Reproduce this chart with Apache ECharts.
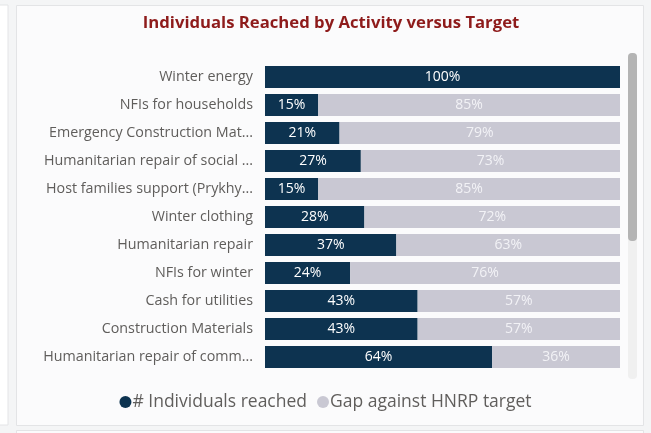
<!DOCTYPE html>
<html>
<head>
<meta charset="utf-8">
<script src="https://cdn.jsdelivr.net/npm/echarts@6/dist/echarts.min.js"></script>
<style>
html,body{margin:0;padding:0;background:#f4f5f6;}
#chart{width:651px;height:433px;}
</style>
</head>
<body>
<div id="chart"></div>
<script>
var categories = [
  "Winter energy",
  "NFIs for households",
  "Emergency Construction Mat...",
  "Humanitarian repair of social ...",
  "Host families support (Prykhy...",
  "Winter clothing",
  "Humanitarian repair",
  "NFIs for winter",
  "Cash for utilities",
  "Construction Materials",
  "Humanitarian repair of comm..."
];
var reached = [100, 15, 21, 27, 15, 28, 37, 24, 43, 43, 64];
var gap = [0, 85, 79, 73, 85, 72, 63, 76, 57, 57, 36];
var seriesNames = ["# Individuals reached", "Gap against HNRP target"];
var titleText = "Individuals Reached by Activity versus Target";

var FONT = "'Open Sans', 'Noto Sans', sans-serif";
var chart = echarts.init(document.getElementById('chart'), null, {renderer: 'canvas'});
function lbl(p){ return p.value > 0 ? p.value + '%' : ''; }
chart.setOption({
  backgroundColor: '#f4f5f6',
  animation: false,
  graphic: [
    {type: 'rect', shape: {x: -10, y: 5, width: 18, height: 420}, style: {fill: '#ffffff', stroke: '#e3e4e6', lineWidth: 1}, z: -10},
    {type: 'rect', shape: {x: 16.5, y: 5.5, width: 627, height: 420}, style: {fill: '#fbfbfc', stroke: '#e3e4e6', lineWidth: 1}, z: -10},
    {type: 'rect', shape: {x: 16.5, y: 430.5, width: 627, height: 20}, style: {fill: '#fbfbfc', stroke: '#e3e4e6', lineWidth: 1}, z: -10},
    {type: 'rect', shape: {x: 628, y: 53, width: 9, height: 326, r: 4}, style: {fill: '#f0f0f0'}, z: -5},
    {type: 'rect', shape: {x: 628, y: 53, width: 9, height: 188, r: 4}, style: {fill: '#b4b4b4'}, z: -4}
  ],
  title: {
    text: titleText,
    left: 326,
    textAlign: 'center',
    top: 10,
    textStyle: {color: '#8e1b1b', fontSize: 16.7, fontWeight: 'bold', fontFamily: FONT}
  },
  legend: {
    data: seriesNames,
    bottom: 17,
    left: 'center',
    icon: 'circle',
    itemWidth: 12,
    itemHeight: 12,
    itemGap: 10,
    textStyle: {color: '#605e5c', fontSize: 17.5, fontFamily: FONT, padding: [0, 0, 0, -4]}
  },
  grid: {left: 265, right: 31, top: 63, height: 308, containLabel: false},
  xAxis: {type: 'value', min: 0, max: 100, show: false},
  yAxis: {
    type: 'category',
    data: categories,
    inverse: true,
    axisLine: {show: false},
    axisTick: {show: false},
    axisLabel: {color: '#5f5d5b', fontSize: 14.3, fontFamily: FONT, margin: 12}
  },
  series: [
    {
      name: seriesNames[0], type: 'bar', stack: 'total', data: reached,
      barCategoryGap: '21%',
      itemStyle: {color: '#0d3350'},
      label: {show: true, position: 'inside', formatter: lbl, color: '#ffffff', fontSize: 14, fontFamily: FONT}
    },
    {
      name: seriesNames[1], type: 'bar', stack: 'total', data: gap,
      itemStyle: {color: '#c9c8d3'},
      label: {show: true, position: 'inside', formatter: lbl, color: '#f2f2f6', fontSize: 14, fontFamily: FONT}
    }
  ]
});
</script>
</body>
</html>
